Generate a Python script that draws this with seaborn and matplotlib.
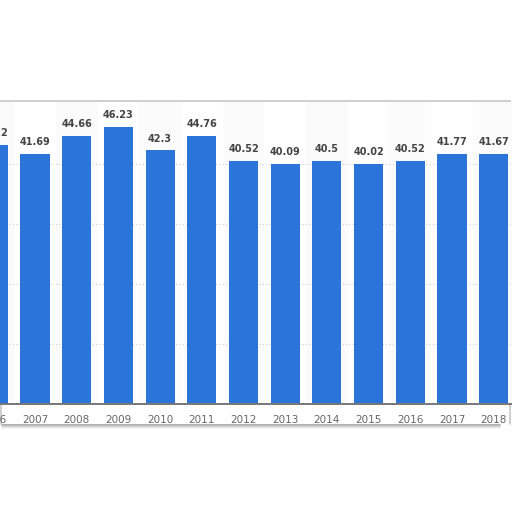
import matplotlib
matplotlib.use("Agg")
import matplotlib.pyplot as plt
import seaborn as sns
import pandas as pd
import numpy as np
from matplotlib.patches import Rectangle
from matplotlib.lines import Line2D

years = ["2006", "2007", "2008", "2009", "2010", "2011", "2012",
         "2013", "2014", "2015", "2016", "2017", "2018"]
values = [43.22, 41.69, 44.66, 46.23, 42.3, 44.76, 40.52,
          40.09, 40.5, 40.02, 40.52, 41.77, 41.67]

df = pd.DataFrame({"year": years, "value": values})

sns.set_theme(style="white")
plt.rcParams['font.family'] = ['DejaVu Sans']

W = H = 512
fig = plt.figure(figsize=(5.12, 5.12), dpi=100)
fig.patch.set_facecolor("white")

def fx(p):
    return p / W

def fy(p):
    return (H - p) / H

# panel (figure pixel coords)
pan_l, pan_r, pan_top, pan_bot = 0, 510, 101, 424
# soft shadow under panel
for k, a in enumerate([0.18, 0.30, 0.38, 0.32, 0.22, 0.12, 0.06]):
    y = pan_bot - 2 + k
    fig.add_artist(Line2D([fx(2), fx(500)], [fy(y), fy(y)], color="#606060",
                          alpha=a, lw=1.2, transform=fig.transFigure, zorder=0))
fig.add_artist(Rectangle((fx(pan_l), fy(pan_bot)), (pan_r - pan_l) / W,
                         (pan_bot - pan_top) / H, transform=fig.transFigure,
                         facecolor="white", edgecolor="none", zorder=0.5))
for xs, ys in [([pan_l, pan_r], [pan_top, pan_top]),
               ([pan_l + 0.5, pan_l + 0.5], [pan_top, pan_bot]),
               ([pan_r, pan_r], [pan_top, pan_bot])]:
    fig.add_artist(Line2D([fx(v) for v in xs], [fy(v) for v in ys],
                          color="#cccccc", lw=1.3, transform=fig.transFigure,
                          zorder=0.6))

# axes geometry
base_y = 403.5
top_y = 102
left_px = -27.55
width_px = 542.1
ax = fig.add_axes([left_px / W, (H - base_y) / H, width_px / W, (base_y - top_y) / H])
ax.set_facecolor("none")
ax.set_zorder(1)

# very faint alternating column shading
for i in range(len(years)):
    if i % 2 == 0:
        ax.axvspan(i - 0.5, i + 0.5, color="#fbfbfb", zorder=0, lw=0)

sns.barplot(data=df, x="year", y="value", color="#2A74DA", width=0.7,
            saturation=1, linewidth=0, ax=ax, zorder=2)

ax.set_xlim(-0.5, 12.5)
ax.set_ylim(0, 50.4)
ax.set_yticks([10, 20, 30, 40])
ax.yaxis.grid(True, color="#cfcfcf", linestyle=(0, (1, 2)), lw=0.8)
ax.set_axisbelow(True)
ax.tick_params(axis="y", left=False, labelleft=False)
ax.tick_params(axis="x", bottom=False, pad=2.5, labelsize=7.5, labelcolor="#666666")
for s in ["top", "right", "left"]:
    ax.spines[s].set_visible(False)
ax.spines["bottom"].set_color("#777777")
ax.spines["bottom"].set_linewidth(1.4)
ax.set_xlabel("")
ax.set_ylabel("")

labels = [f"{v:g}" for v in values]
ax.bar_label(ax.containers[0], labels=labels, padding=5, fontsize=7,
             fontweight="bold", color="#444444")

fig.savefig("out.png", dpi=100, facecolor="white")
